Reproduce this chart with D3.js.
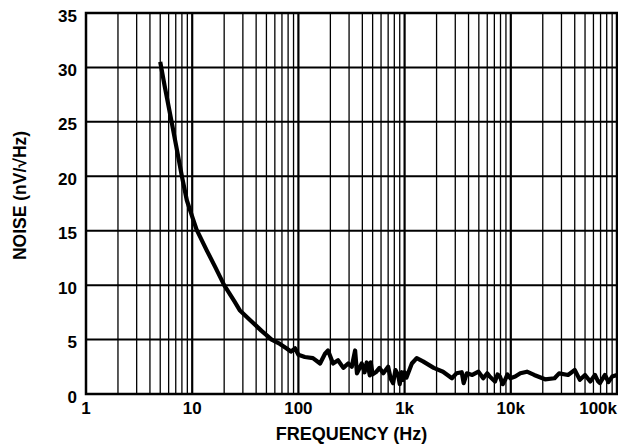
<!DOCTYPE html>
<html>
<head>
<meta charset="utf-8">
<script src="https://cdn.jsdelivr.net/npm/d3@7"></script>
<style>
  html, body { margin: 0; padding: 0; background: #fff; }
  svg text { font-family: "Liberation Sans", Arial, sans-serif; font-weight: bold; fill: #000; }
</style>
</head>
<body>
<svg id="chart" width="618" height="448"></svg>
<script>
// ---- data ----
const freqHz = [5, 5.5, 6.4, 7, 8, 8.9, 10, 11, 13.7, 16.4, 20, 25, 28, 35, 45, 56, 67, 77, 85, 93,
  100, 115, 137, 160, 178, 190, 212, 236, 265, 294, 318, 342, 356, 395, 420, 440, 456, 470, 480, 500, 543, 580, 630, 700, 740, 780, 820, 870, 900, 940, 970,
  1000, 1040, 1170, 1300, 1490, 1880, 2300, 2790, 3080, 3450, 3600, 3850, 4340, 4960, 5500, 6000, 6330, 7100, 7500, 7900, 8400, 8840, 9300, 9900,
  11000, 12300, 14200, 16600, 21000, 25800, 28500, 34600, 40000, 44700, 50000, 56000, 62000, 66000, 69000, 77000, 83000, 90000, 100000];
const noiseNV = [30.5, 28.3, 25, 23, 20, 17.8, 16.3, 15.1, 13.2, 11.7, 10, 8.5, 7.7, 6.8, 5.8, 5.0, 4.6, 4.2, 3.9, 4.2,
  3.6, 3.4, 3.3, 2.8, 3.7, 4.0, 2.8, 3.1, 2.4, 2.8, 2.5, 4.0, 1.9, 2.8, 2.0, 2.9, 2.4, 1.7, 2.9, 1.8, 2.05, 2.4, 1.9, 2.5, 1.4, 1.0, 2.2, 1.75, 0.9, 2.0, 1.3,
  2.0, 1.5, 2.8, 3.3, 3.0, 2.4, 2.05, 1.45, 1.9, 2.0, 1.0, 1.9, 1.75, 2.05, 1.45, 1.9, 1.6, 1.15, 1.8, 1.6, 0.9, 1.3, 1.8, 1.45,
  1.6, 1.9, 2.05, 1.75, 1.35, 1.45, 1.9, 1.75, 2.2, 1.3, 1.75, 1.15, 1.75, 1.2, 1.0, 1.75, 1.1, 1.6, 1.75];
const xTickValues = [1, 10, 100, 1000, 10000, 100000];
const xTickLabels = ["1", "10", "100", "1k", "10k", "100k"];
const yTickValues = [0, 5, 10, 15, 20, 25, 30, 35];

// ---- layout ----
const svg = d3.select("#chart");
const pL = 86, pT = 13, pR = 617, pB = 394;
const x = d3.scaleLog().domain([1, 100000]).range([pL, pR]);
const y = d3.scaleLinear().domain([0, 35]).range([pB, pT]);

// minor vertical grid
const minor = [];
for (let d = 1; d < 100000; d *= 10) for (let k = 2; k <= 9; k++) minor.push(d * k);
svg.append("g").selectAll("line").data(minor).join("line")
  .attr("x1", d => x(d)).attr("x2", d => x(d)).attr("y1", pT).attr("y2", pB)
  .attr("stroke", "#000").attr("stroke-width", 1.3);
// decade lines
svg.append("g").selectAll("line").data(xTickValues.slice(1, -1)).join("line")
  .attr("x1", d => x(d)).attr("x2", d => x(d)).attr("y1", pT).attr("y2", pB)
  .attr("stroke", "#000").attr("stroke-width", 2.2);
// horizontal grid
svg.append("g").selectAll("line").data(yTickValues.slice(1, -1)).join("line")
  .attr("x1", pL).attr("x2", pR).attr("y1", d => y(d)).attr("y2", d => y(d))
  .attr("stroke", "#000").attr("stroke-width", 2);
// frame
svg.append("rect").attr("x", pL).attr("y", pT).attr("width", pR - pL).attr("height", pB - pT)
  .attr("fill", "none").attr("stroke", "#000").attr("stroke-width", 2.5);

// curve
const pts = freqHz.map((f, i) => [f, noiseNV[i]]);
svg.append("path").datum(pts)
  .attr("d", d3.line().x(d => x(d[0])).y(d => y(d[1])))
  .attr("fill", "none").attr("stroke", "#000").attr("stroke-width", 4.2)
  .attr("stroke-linejoin", "round").attr("stroke-linecap", "butt");

// y tick labels
svg.append("g").selectAll("text").data(yTickValues).join("text")
  .attr("x", 77).attr("y", d => y(d)).attr("dy", "0.5em")
  .attr("text-anchor", "end").attr("font-size", 17).text(d => d);
// x tick labels
svg.append("g").selectAll("text").data(xTickValues).join("text")
  .attr("x", d => x(d)).attr("y", 413.5)
  .attr("text-anchor", (d, i) => i === xTickValues.length - 1 ? "end" : "middle")
  .attr("font-size", 17).text((d, i) => xTickLabels[i]);

// axis titles
svg.append("text").attr("x", (pL + pR) / 2).attr("y", 439.5)
  .attr("text-anchor", "middle").attr("font-size", 18).text("FREQUENCY (Hz)");
svg.append("text").attr("transform", `translate(26,195.5) rotate(-90)`)
  .attr("text-anchor", "middle").attr("font-size", 17.5).text("NOISE (nV/\u221AHz)");
</script>
</body>
</html>
